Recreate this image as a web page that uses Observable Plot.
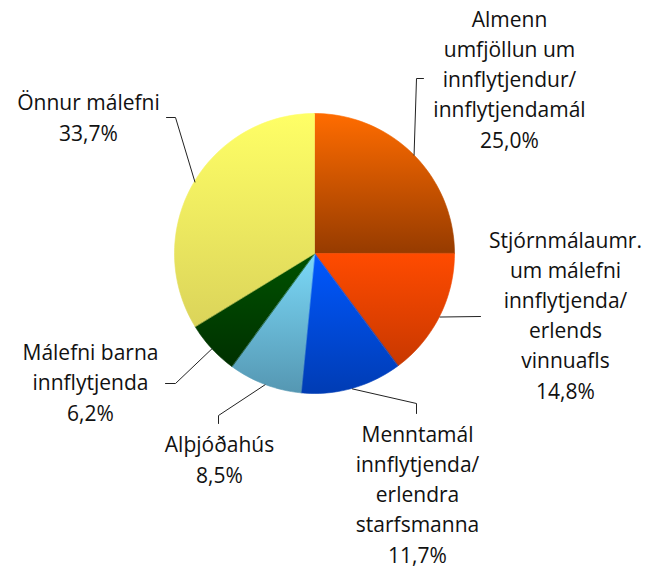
<!DOCTYPE html>
<html><head><meta charset="utf-8">
<script src="https://cdn.jsdelivr.net/npm/d3@7"></script>
<script src="https://cdn.jsdelivr.net/npm/@observablehq/plot@0.6"></script>
<style>html,body{margin:0;padding:0;background:#fff} svg{display:block}</style>
</head><body><div id="chart"></div>
<script>
// ---- data ----
const categories = [
  "Almenn\numfjöllun um\ninnflytjendur/\ninnflytjendamál",
  "Stjórnmálaumr.\num málefni\ninnflytjenda/\nerlends\nvinnuafls",
  "Menntamál\ninnflytjenda/\nerlendra\nstarfsmanna",
  "Alþjóðahús",
  "Málefni barna\ninnflytjenda",
  "Önnur málefni"
];
const values = [25.0, 14.8, 11.7, 8.5, 6.2, 33.7];
const colorTop    = ["#ff6c00", "#ff4b00", "#0058ff", "#7bd9f8", "#005200", "#ffff66"];
const colorBottom = ["#963b00", "#c83800", "#003cb4", "#5597b2", "#003000", "#dbd45a"];

// ---- layout (pixels) ----
const W = 645, H = 569;
const cx = 314.5, cy = 253.5, R = 140;
const labelAt = [[509, 147], [565, 398], [417, 562], [219, 482], [90, 420], [88, 140]];
const leaderVia = [
  [[416, 78], [423, 78]],
  [[480, 316]],
  [[416, 403], [416, 413]],
  [[218, 415], [218, 423]],
  [[175, 383], [165, 383]],
  [[175, 117], [166, 117]]
];
const leaderEdgeFrac = [null, null, null, null, null, 0.836];

// ---- geometry from values ----
const total = d3.sum(values);
let acc = 0;
const slices = values.map((v, i) => {
  const a0 = acc / total; acc += v; const a1 = acc / total;
  return {i, a0, a1, mid: (a0 + a1) / 2};
});
const edge = (t, r = R) => [cx + r * Math.sin(2 * Math.PI * t), cy - r * Math.cos(2 * Math.PI * t)];

const wedgeMarks = slices.map(s => {
  const n = Math.max(2, Math.ceil((s.a1 - s.a0) * 180));
  const pts = d3.range(n + 1).map(k => {
    const [x, y] = edge(s.a0 + (s.a1 - s.a0) * k / n);
    return {x, y};
  });
  return Plot.area(pts, {
    x1: "x", y1: "y", x2: () => cx, y2: () => cy,
    fill: `url(#grad${s.i})`, stroke: `url(#grad${s.i})`, strokeWidth: 0.6, curve: "linear"
  });
});

const leaders = [];
slices.forEach(s => {
  const t = leaderEdgeFrac[s.i] ?? s.mid;
  const [x0, y0] = edge(t);
  leaders.push({k: s.i, x: x0, y: y0});
  leaderVia[s.i].forEach(([x, y]) => leaders.push({k: s.i, x, y}));
});

const labels = slices.map(s => ({
  x: labelAt[s.i][0], y: labelAt[s.i][1],
  text: categories[s.i] + "\n" + values[s.i].toFixed(1).replace(".", ",") + "%"
}));

const svg = Plot.plot({
  width: W, height: H, margin: 0,
  x: {domain: [0, W], axis: null},
  y: {domain: [0, H], reverse: true, axis: null},
  style: {fontFamily: "'Open Sans', sans-serif", background: "#fff", color: "#000", overflow: "visible"},
  marks: [
    ...wedgeMarks,
    Plot.line(leaders, {x: "x", y: "y", z: "k", stroke: "#222", strokeWidth: 1, curve: "linear"}),
    Plot.text(labels, {x: "x", y: "y", text: "text", textAnchor: "middle", lineAnchor: "bottom",
      fontSize: 21, lineHeight: 1.43, fill: "#111"})
  ]
});

const defs = d3.select(svg).insert("defs", ":first-child");
slices.forEach(s => {
  const g = defs.append("linearGradient").attr("id", `grad${s.i}`)
    .attr("x1", 0).attr("y1", 0).attr("x2", 0).attr("y2", 1);
  g.append("stop").attr("offset", "0%").attr("stop-color", colorTop[s.i]);
  g.append("stop").attr("offset", "100%").attr("stop-color", colorBottom[s.i]);
});

document.getElementById("chart").appendChild(svg);
</script>
</body></html>
